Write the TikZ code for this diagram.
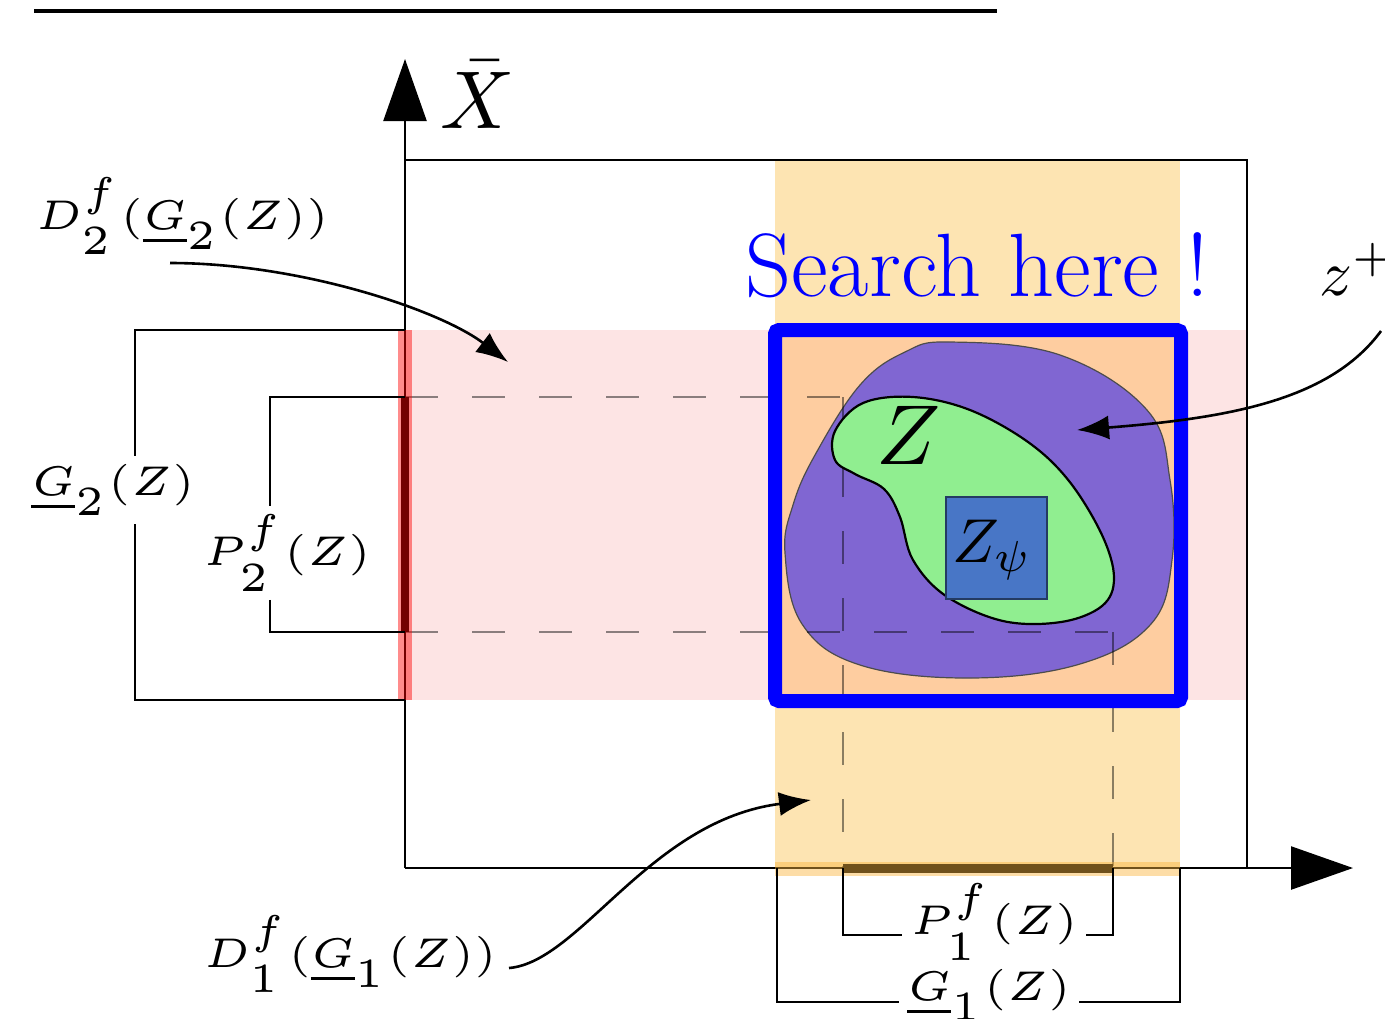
\documentclass[tikz,border=0pt]{standalone}
\usepackage{graphicx}
\usetikzlibrary{arrows.meta}
\definecolor{pinkband}{RGB}{253,228,228}
\definecolor{orangeband}{RGB}{253,228,178}
\definecolor{peach}{RGB}{254,205,160}
\definecolor{blobpurple}{RGB}{128,102,210}
\definecolor{blobgreen}{RGB}{144,238,144}
\definecolor{psiblue}{RGB}{72,118,198}
\definecolor{stripeorange}{RGB}{250,180,60}
\newcommand{\tlbl}[1]{\scalebox{4.15}{\tiny$#1$}}
\newcommand{\scalemath}[2]{\scalebox{#1}{$#2$}}
\begin{document}
\begin{tikzpicture}[x=0.5pt,y=-0.5pt,
  axis/.style={line width=1.2pt},
  axtip/.style={-{Triangle[length=31pt,width=21.5pt]}},
  bracket/.style={line width=1.3pt},
  dashline/.style={line width=1.3pt, black, opacity=0.45, dash pattern=on 16.5pt off 17pt},
  pointer/.style={line width=1.3pt, -{Latex[length=16pt,width=12pt]}},
  lbl/.style={inner sep=2pt},
  blank/.style={fill=white, inner sep=4pt}]
\useasboundingbox (0,0) rectangle (1385,1018);
% top rule
\draw[line width=2pt] (34,11) -- (997,11);
% bands
\fill[pinkband] (405,330) rectangle (1247,700);
\fill[orangeband] (775,160) rectangle (1180,868);
\fill[peach] (775,330) rectangle (1180,700);
% purple blob
\draw[fill=blobpurple, draw=black!70, line width=0.6pt]
  plot[smooth cycle, tension=0.65] coordinates {(950,342) (1060,355) (1147,410) (1170,480) (1172,560) (1151,624) (1080,664) (970,678) (860,665) (802,624) (785,553) (793,505) (815,455) (860,385) (905,352)};
% dashed projection lines
\draw[dashline] (405,397) -- (843,397);
\draw[dashline] (405,632) -- (1113,632);
\draw[dashline] (843,397) -- (843,868);
\draw[dashline] (1113,632) -- (1113,868);
% green blob Z
\draw[fill=blobgreen, draw=black, line width=1.1pt]
  plot[smooth cycle, tension=0.6] coordinates {(863,403) (913,397) (970,410) (1028,442) (1069,481) (1102,535) (1114,578) (1102,606) (1061,622) (1003,621) (946,596) (913,560) (900,517) (884,489) (855,474) (835,460) (835,431)};
% Z_psi square
\draw[fill=psiblue, draw=black!50!psiblue, line width=0.6pt] (946,497) rectangle (1047,599);
\node[lbl] (zpsi) at (992,550) {\scalemath{3.1}{Z_\psi}};
\node[lbl] (zlab) at (909,435) {\scalemath{4.25}{Z}};
% search rectangle
\draw[blue, line width=7pt, rounded corners=2pt] (775,330) rectangle (1181,701);
\node[anchor=base west, inner sep=0pt, text=blue] (search) at (745,296) {\fontsize{45}{50}\selectfont Search here !};
% frame
\draw[axis] (405,160) -- (1247,160) -- (1247,868);
% axes
\draw[axis, axtip] (405,868) -- (405,59);
\draw[axis, axtip] (405,868) -- (1353,868);
\node[inner sep=0pt] (xbar) at (478,95) {\scalemath{4.1}{\bar{X}}};
% projections on axes
\draw[line width=4pt, black] (405,397) -- (405,632);
\draw[line width=7pt, red, opacity=0.45] (405,330) -- (405,700);
\draw[line width=4.5pt, black] (843,868) -- (1113,868);
\draw[line width=7pt, stripeorange, opacity=0.45] (775,869) -- (1180,869);
% brackets
\node[blank] (g2) at (113,490) {\tlbl{\underline{G}_2(Z)}};
\draw[bracket] (405,330) -- (135,330) -- (g2.north -| 135,0);
\draw[bracket] (g2.south -| 135,0) -- (135,700) -- (405,700);
\node[blank] (p2) at (287,553) {\tlbl{P_2^f(Z)}};
\draw[bracket] (405,397) -- (270,397) -- (p2.north -| 270,0);
\draw[bracket] (p2.south -| 270,0) -- (270,632) -- (405,632);
\node[blank] (p1) at (994,922) {\tlbl{P_1^f(Z)}};
\draw[bracket] (843,868) -- (843,935) -- (p1.west |- 0,935);
\draw[bracket] (p1.east |- 0,935) -- (1113,935) -- (1113,868);
\node[blank] (g1) at (989,995) {\tlbl{\underline{G}_1(Z)}};
\draw[bracket] (777,868) -- (777,1002) -- (g1.west |- 0,1002);
\draw[bracket] (g1.east |- 0,1002) -- (1180,1002) -- (1180,868);
% pointer labels
\node[lbl, anchor=base west] (d2) at (31,229) {\tlbl{D_2^f(\underline{G}_2(Z))}};
\coordinate (d2s) at (170,263);
\coordinate (d2e) at (508,362);
\draw[pointer] (d2s) .. controls (300,263) and (440,310) .. (d2e);
\node[lbl, anchor=base west] (d1) at (199,967) {\tlbl{D_1^f(\underline{G}_1(Z))}};
\coordinate (d1s) at (509,968);
\coordinate (d1e) at (811,800);
\draw[pointer] (d1s) .. controls (580,962) and (650,820) .. (d1e);
\node[inner sep=0pt, anchor=base west] (zplus) at (1319,295) {\scalemath{3.25}{z^+}};
\coordinate (zps) at (1381,331);
\coordinate (zpe) at (1077,430);
\draw[pointer] (zps) .. controls (1330,400) and (1230,418) .. (zpe);
\end{tikzpicture}
\end{document}
